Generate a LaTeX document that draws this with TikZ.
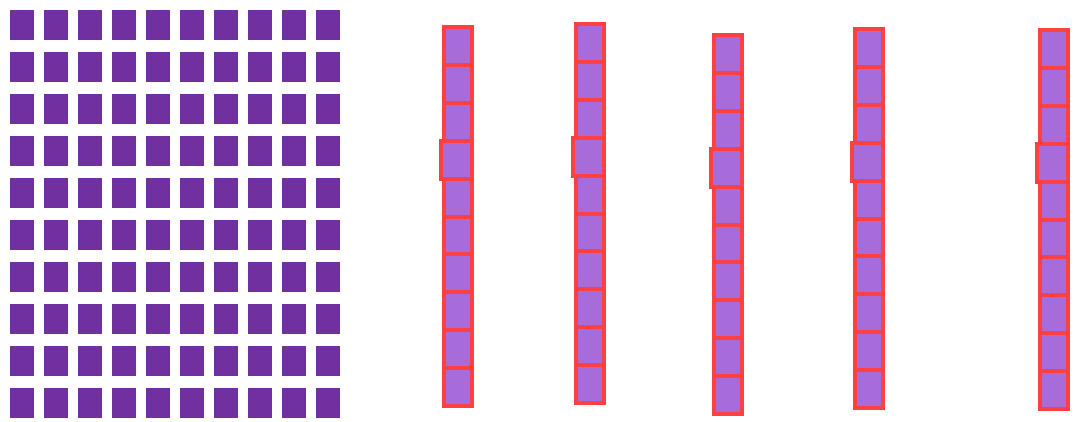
\documentclass[tikz,border=0pt]{standalone}
\usetikzlibrary{positioning}
\definecolor{gridlila}{HTML}{7030A0}
\definecolor{stablila}{HTML}{A86CDA}
\definecolor{stabrot}{HTML}{FF4040}
\begin{document}
\begin{tikzpicture}[x=1pt, y=-1pt]
  \tikzset{
    unit/.style={fill=gridlila, minimum width=24pt, minimum height=30pt,
                 inner sep=0pt, anchor=north west},
    rod/.style={draw=stabrot, fill=stablila, line width=4pt,
                minimum width=28pt, minimum height=37.9pt, inner sep=0pt}
  }
  \useasboundingbox (0,0) rectangle (1074,421);
  % Hunderterfeld
  \foreach \r in {0,...,9}
    \foreach \c in {0,...,9}
      \node[unit] (u\r-\c) at (10+34*\c, 10+42*\r) {};
  % Zehnerstangen
  \foreach \s/\x/\y in {1/458/25, 2/590/22, 3/727.5/33, 4/869/27, 5/1054/28}
    \foreach \k in {0,...,9}
      \node[rod] (s\s-\k) at (\x, \y+20.95+37.9*\k) {};
  % verrutschtes viertes Feld
  \foreach \s/\x/\y in {1/458/25, 2/590/22, 3/727.5/33, 4/869/27, 5/1054/28}
    \node[rod, minimum width=31pt] (s\s-3b) at (\x-1.5, \y+20.95+37.9*3) {};
\end{tikzpicture}
\end{document}
